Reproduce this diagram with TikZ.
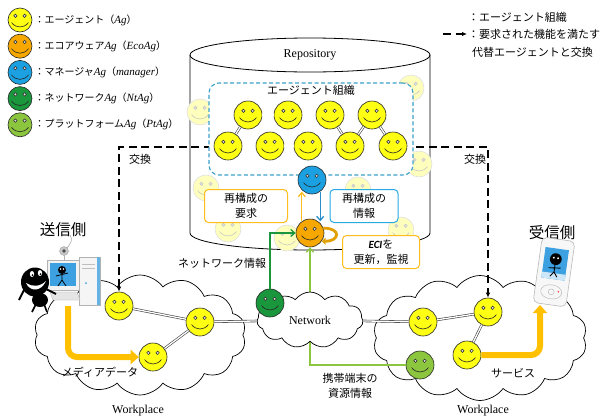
\documentclass[tikz,border=0pt]{standalone}
\usepackage{fontspec}
\setmainfont{Liberation Serif}
\setsansfont{Carlito}
\newfontfamily\jpfont{Noto Sans CJK JP}
\usepackage{xcolor}
\usetikzlibrary{arrows.meta,positioning,shapes.symbols}

\definecolor{agyellow}{RGB}{255,255,20}
\definecolor{ecoorange}{RGB}{246,168,0}
\definecolor{mgrblue}{RGB}{27,161,226}
\definecolor{ntgreen}{RGB}{26,150,60}
\definecolor{ptgreen}{RGB}{140,198,63}
\definecolor{mediaamber}{RGB}{255,192,0}
\definecolor{boxamber}{RGB}{255,190,30}
\definecolor{boxblue}{RGB}{40,170,225}
\definecolor{orgteal}{RGB}{60,160,200}
\definecolor{flowblue}{RGB}{40,140,200}
\definecolor{loopamber}{RGB}{225,160,0}
\definecolor{screenblue}{RGB}{60,160,225}

\newcommand{\agname}[1]{{\rmfamily\itshape\fontsize{11}{12}\selectfont #1}}
\newcommand{\smileface}{%
	\begin{scope}[shift={(path picture bounding box.center)}, scale=\facescale, x=1pt, y=1pt]
		\filldraw[draw=\faceink, fill=black!12, line width=0.5pt] (-4.6,4.2) circle (1.7) (4.6,4.2) circle (1.7);
		\draw[draw=\faceink, line width=0.6pt] (-8.5,-2.5) .. controls (-4,-8.5) and (4,-8.5) .. (8.5,-2.5);
	\end{scope}
}

\tikzset{
	face ink/.store in=\faceink, face ink=black!85,
	face scale/.store in=\facescale, face scale=1,
	agent/.style={circle, draw=black!85, line width=0.6pt, fill=#1, minimum size=28pt, inner sep=0pt, path picture={\smileface}},
	legendagent/.style={agent=#1, minimum size=24pt, face scale=0.86},
	ghost/.style={agent=agyellow!28, draw=black!12, minimum size=26pt, face scale=0.93, face ink=black!22},
	place/.style={cloud, cloud puffs=14, cloud puff arc=110, cloud ignores aspect, draw, fill=white, line width=0.7pt},
	vessel/.style={draw=black, line width=0.8pt},
	orgbox/.style={draw=orgteal, dash pattern=on 4pt off 2.5pt, line width=1.1pt, rounded corners=10pt, fill=white},
	orgline/.style={draw=black!75, double=white, double distance=1.3pt, line width=0.6pt},
	exchange/.style={line width=1.6pt, dash pattern=on 8pt off 4.5pt},
	infobox/.style={draw=#1, line width=1pt, rounded corners=4pt, fill=white, align=center, font=\jpfont\fontsize{11}{15}\selectfont, inner sep=2pt, minimum height=33pt},
	flow/.style={draw=#1, line width=1.3pt, -{Straight Barb[length=4pt,width=7pt]}},
	media/.style={draw=mediaamber, line width=6pt, rounded corners=9pt, -{Triangle[length=8pt,width=14pt]}},
	ecicycle/.style={draw=loopamber, line width=2.8pt, -{Triangle[length=4pt,width=7pt]}},
	jtext/.style={font=\jpfont\fontsize{11}{15}\selectfont, align=center, inner sep=1pt},
	keytext/.style={font=\jpfont\fontsize{10}{12}\selectfont, anchor=west, inner sep=1pt},
	sidetext/.style={font=\jpfont\fontsize{15.5}{18}\selectfont, inner sep=1pt},
	serif/.style={font=\fontsize{12}{14}\selectfont, inner sep=1pt}
}

\begin{document}
\begin{tikzpicture}[x=1pt, y=-1pt]
	\useasboundingbox (0,0) rectangle (613,418);

	% Workplaces of sender and receiver
	\node[place, minimum width=212pt, minimum height=120pt] (wsend) at (140,335) {};
	\node[place, minimum width=214pt, minimum height=125pt] (wrecv) at (480,338) {};

	% Repository is drawn
	\draw[vessel] (190,55) -- (190,233) arc[start angle=180, end angle=360, x radius=120pt, y radius=17pt] -- (430,55);
	\draw[vessel] (310,55) ellipse[x radius=120pt, y radius=17pt];
	\node[serif] (repo) at (310,55) {Repository};

	\foreach \gx/\gy [count=\gi] in {200/112, 411/88, 419/164, 206/188, 228/229, 287/238, 358/190, 401/230}
		\node[ghost] (ghost-\gi) at (\gx,\gy) {};

	% agents in the workplaces
	\node[agent=agyellow] (src-1) at (119,306) {};
	\node[agent=agyellow] (src-2) at (200,322) {};
	\node[agent=agyellow] (src-3) at (153,357) {};
	\node[agent=agyellow] (dst-1) at (423,322) {};
	\node[agent=agyellow] (dst-2) at (488,312) {};
	\node[agent=agyellow] (dst-3) at (467,355) {};
	\node[agent=ptgreen] (pt) at (420,365) {};

	% exchange of an agent
	\coordinate (swapy) at (0,147);
	\draw[exchange, {Latex[length=5pt,width=4.5pt]}-{Latex[length=5pt,width=4.5pt]}]
		(src-1.north) -- (src-1.north |- swapy) -- (dst-2.north |- swapy) -- (dst-2.north);
	\node[jtext] (swap-l) at (140,159) {交換};
	\node[jtext] (swap-r) at (475,159) {交換};

	% Agent organization is drawn
	\node[orgbox, minimum width=204pt, minimum height=92pt] (org) at (311,129) {};
	\node[jtext, below=2pt of org.north] (orgtitle) {エージェント組織};
	\foreach \n/\ox/\oy in {t1/248/115, t2/288/115, t3/330/115, t4/372/115, b1/228/146, b2/270/146, b3/308/146, b4/350/146, b5/393/146}
		\node[agent=agyellow] (org-\n) at (\ox,\oy) {};
	\foreach \a/\b in {t1/t2, t1/b1, b2/b3, t3/b4, b4/t4, t4/b5}
		\draw[orgline] (org-\a) -- (org-\b);

	\node[agent=mgrblue] (mgr) at (312,180) {};
	\node[agent=ecoorange] (eco) at (310,233) {};

	% resource info of the terminal
	\draw[flow=ptgreen] (pt.west) -| (eco.south);

	% Network is drawn
	\node[place, cloud puffs=11, minimum width=106pt, minimum height=56pt, font=\fontsize{12}{14}\selectfont] (net) at (310,320) {Network};
	\node[agent=ntgreen] (nt) at (270,303) {};

	\foreach \a/\b in {src-1/src-2, src-2/src-3, src-2/net, net/dst-1, dst-1/dst-2, dst-2/dst-3}
		\draw[orgline] (\a) -- (\b);

	\draw[flow=ntgreen] (nt.north) |- (eco.west);
	\draw[flow=boxamber] (eco.125) -- (eco.125 |- mgr.235);
	\draw[flow=flowblue] (mgr.-55) -- (mgr.-55 |- eco.55);
	\draw[ecicycle] (eco.20) to[out=0, in=0, looseness=3.5] (eco.-35);

	\node[infobox=boxamber, minimum width=83pt] (request) at (246,206) {再構成の\\要求};
	\node[infobox=boxblue, minimum width=68pt] (reinfo) at (364,206) {再構成の\\情報};
	\node[infobox=boxamber, minimum width=77pt] (eci) at (381,252) {{\sffamily\bfseries\itshape ECI}を\\更新，監視};

	% media and service
	\coordinate (mediaout) at (68,306);
	\coordinate (mediain) at (540,305);
	\draw[media] (mediaout) |- (src-3.west);
	\draw[media] (dst-3.east) -| (mediain);

	\node[jtext] (netinfo) at (222,263) {ネットワーク情報};
	\node[jtext] (mediatxt) at (100,372) {メディアデータ};
	\node[jtext] (service) at (513,373) {サービス};
	\node[jtext] (resinfo) at (350,386) {携帯端末の\\資源情報};
	\node[sidetext] (sender) at (63,230) {送信側};
	\node[sidetext] (receiver) at (552,233) {受信側};
	\node[serif] (wp-l) at (138,411) {Workplace};
	\node[serif] (wp-r) at (483,411) {Workplace};

	% sender's PC
	\draw[gray!70, line width=0.6pt] (67,248) .. controls (71,243) and (73,240) .. (70,235);
	\filldraw[fill=gray!45, draw=gray!70] (64,251) circle (4.5pt);
	\fill[black!70] (64,251) circle (1.8pt);
	\draw[gray!60, line width=1pt] (64,255) -- (64,260);
	\filldraw[fill=gray!10, draw=gray!60, line width=0.5pt] (47,260) rectangle (79,290);
	\fill[screenblue] (50,263) rectangle (76,286);
	\fill[black] (62,270) circle (4pt);
	\fill[white] (60.5,269) circle (0.8pt) (63.5,269) circle (0.8pt);
	\draw[black, line width=0.8pt] (62,274) -- (62,280) (56,276) -- (68,273) (62,280) -- (58,286) (62,280) -- (66,286);
	\filldraw[fill=gray!8, draw=gray!60] (79,257) rectangle (100,305);
	\fill[screenblue!80] (97,257) rectangle (100,305);
	\draw[gray!50] (82,264) -- (95,264) (82,268) -- (95,268);
	\fill[screenblue] (86,283) circle (1pt);
	\filldraw[fill=gray!20, draw=gray!60] (50,292) -- (77,292) -- (80,300) -- (53,300) -- cycle;
	\fill[black] (40,300) ellipse (8pt and 7pt);
	\draw[black, line width=1.6pt] (36,304) -- (32,312) (44,304) -- (47,312);
	\draw[black, line width=2pt] (46,289) -- (56,294) (24,290) -- (19,300);
	\fill[black] (35,282) ellipse (14pt and 14.5pt);
	\fill[white] (32,274) ellipse (2.2pt and 3pt) (40,273) ellipse (2.2pt and 3pt);
	\fill[black] (32.5,275) circle (1pt) (40.5,274) circle (1pt);
	\fill[white] (26,283) .. controls (30,292) and (41,292) .. (46,281) .. controls (40,287) and (32,287) .. cycle;

	% receiver's terminal
	\begin{scope}[shift={(554,272)}, rotate=-8, scale=1.18]
		\filldraw[fill=gray!6, draw=gray!55, rounded corners=5pt, line width=0.6pt] (-14,-28) rectangle (14,28);
		\fill[screenblue] (-10,-20) rectangle (10,6);
		\fill[white!75!screenblue] (-10,1) rectangle (10,6);
		\fill[black] (0,-11) circle (5pt);
		\fill[white] (-1.8,-12) circle (0.9pt) (1.8,-12) circle (0.9pt);
		\draw[black, line width=0.9pt] (0,-6) -- (0,0) (-5,-3) -- (5,-4) (0,0) -- (-3,4) (0,0) -- (3,4);
		\draw[gray!60] (0,17) ellipse (9pt and 6pt);
		\draw[gray!60] (0,17) circle (2.5pt);
		\fill[red!70] (6,16) circle (0.8pt);
	\end{scope}

	% legend of the agents
	\foreach \col/\txt [count=\k] in {agyellow/{：エージェント（\agname{Ag}）}, ecoorange/{：エコアウェア\agname{Ag}（\agname{EcoAg}）}, mgrblue/{：マネージャ\agname{Ag}（\agname{manager}）}, ntgreen/{：ネットワーク\agname{Ag}（\agname{NtAg}）}, ptgreen/{：プラットフォーム\agname{Ag}（\agname{PtAg}）}}
	{
		\node[legendagent=\col] (key-\k) at (20,{20+26.2*(\k-1)}) {};
		\node[keytext, right=1pt of key-\k] (key-\k-txt) {\txt};
	}

	% legend of the lines
	\coordinate (keyorg-a) at (443,17);
	\coordinate (keyorg-b) at (467,17);
	\coordinate (keyswap-a) at (443,34);
	\coordinate (keyswap-b) at (467,34);
	\draw[orgline] (keyorg-a) -- (keyorg-b);
	\draw[exchange, -{Latex[length=5pt,width=4.5pt]}] (keyswap-a) -- (keyswap-b);
	\node[keytext, font=\jpfont\fontsize{11}{13}\selectfont] (keyorg) at (467,17) {：エージェント組織};
	\node[keytext, font=\jpfont\fontsize{11}{13}\selectfont] (keyswap) at (467,34) {：要求された機能を満たす};
	\node[keytext, font=\jpfont\fontsize{11}{13}\selectfont] (keyswap-2) at (471,52) {代替エージェントと交換};
\end{tikzpicture}
\end{document}
